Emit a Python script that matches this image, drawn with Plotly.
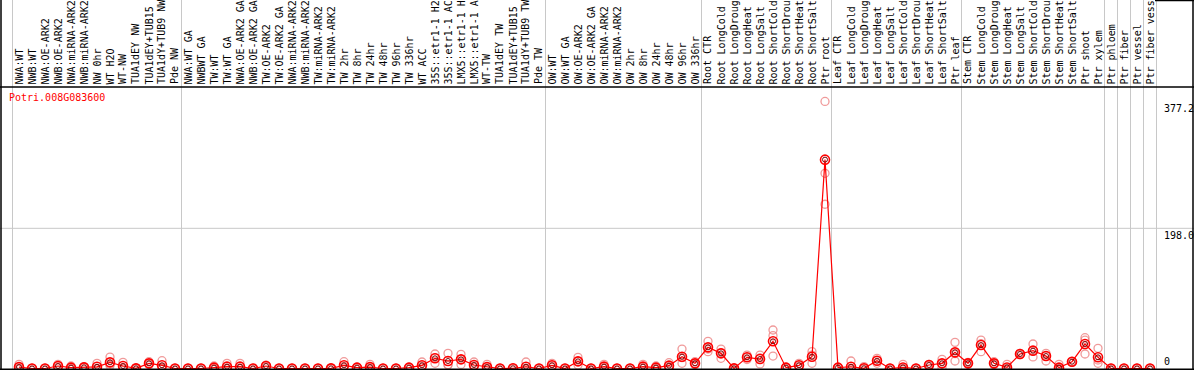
import plotly.graph_objects as go

W, H = 1194, 370

categories = [
    "NWA:WT", "NWB:WT", "NWA:OE-ARK2", "NWB:OE-ARK2", "NWA:miRNA-ARK2", "NWB:miRNA-ARK2",
    "NW 0hr", "WT H2O", "WT-NW", "TUA1dEY NW", "TUA1dEY+TUB15", "TUA1dY+TUB9 NW", "Pde NW",
    "NWA:WT GA", "NWBWT GA", "TW:WT", "TW:WT GA", "NWA:OE-ARK2 GA", "NWB:OE-ARK2 GA",
    "TW:OE-ARK2", "TW:OE-ARK2 GA", "NWA:miRNA-ARK2", "NWB:miRNA-ARK2", "TW:miRNA-ARK2",
    "TW:miRNA-ARK2", "TW 2hr", "TW 8hr", "TW 24hr", "TW 48hr", "TW 96hr", "TW 336hr",
    "WT ACC", "35S::etr1-1 H2", "35S::etr1-1 AC", "LMX5::etr1-1 H", "LMX5::etr1-1 A",
    "WT-TW", "TUA1dEY TW", "TUA1dEY+TUB15", "TUA1dY+TUB9 TW", "Pde TW",
    "OW:WT", "OW:WT GA", "OW:OE-ARK2", "OW:OE-ARK2 GA", "OW:miRNA-ARK2", "OW:miRNA-ARK2",
    "OW 2hr", "OW 8hr", "OW 24hr", "OW 48hr", "OW 96hr", "OW 336hr",
    "Root CTR", "Root LongCold", "Root LongDroug", "Root LongHeat", "Root LongSalt",
    "Root ShortCold", "Root ShortDrou", "Root ShortHeat", "Root ShortSalt", "Ptr root",
    "Leaf CTR", "Leaf LongCold", "Leaf LongDroug", "Leaf LongHeat", "Leaf LongSalt",
    "Leaf ShortCold", "Leaf ShortDrou", "Leaf ShortHeat", "Leaf ShortSalt", "Ptr leaf",
    "Stem CTR", "Stem LongCold", "Stem LongDroug", "Stem LongHeat", "Stem LongSalt",
    "Stem ShortCold", "Stem ShortDrou", "Stem ShortHeat", "Stem ShortSalt", "Ptr shoot",
    "Ptr xylem", "Ptr phloem", "Ptr fiber", "Ptr vessel", "Ptr fiber vess",
]

mean_values = [
    2.0, 0, 0, 3.5, 1.2, 1.6, 2.4, 8.7, 3.5, 0.2, 7.3, 4.5, 0,
    0, 0, 1.2, 2.6, 2.6, 0, 3.5, 0, 0, 0, 0, 0.2, 4.5, 1.2, 2.0, 0, 0,
    1.2, 4.5, 14.4, 10.6, 12.9, 4.9, 2.0, 0, 0.3, 2.5, 0,
    4.5, 0, 10.1, 0, 2.6, 0, 0, 2.6, 1.2, 4.0, 16.7, 7.3,
    29.9, 21.4, 0.2, 15.8, 13.4, 38.4, 1.2, 4.5, 16.7, 295.0,
    1.2, 2.5, 0.3, 11.0, 0, 1.5, 0, 4.9, 7.3, 22.8, 7.3,
    33.1, 7.3, 1.5, 20.5, 25.2, 17.6, 1.2, 9.6, 34.6, 15.8,
    0, 0, 0, 0,
]

rep1 = [
    5.9, 0, 0, 5.9, 3.5, 2.5, 7.3, 16.2, 8.7, 0.5, 9.6, 11.0, 0,
    0, 0, 3.5, 7.3, 7.3, 0, 4.9, 0, 0, 0, 0, 0.4, 9.6, 2.0, 5.9, 0, 0,
    2.0, 9.2, 20.5, 21.4, 20.0, 9.2, 5.9, 0, 0.6, 9.2, 0,
    7.3, 0, 15.8, 0, 5.9, 0, 0, 5.9, 3.5, 8.2, 27.5, 9.6,
    38.4, 27.5, 0.5, 19.0, 19.0, 54.4, 2.0, 7.3, 23.8, 377.2,
    1.5, 10.6, 2.6, 14.4, 0, 5.9, 0, 5.9, 12.9, 36.9, 8.7,
    40.2, 9.6, 5.9, 21.5, 34.6, 21.4, 5.9, 10.0, 43.5, 28.5,
    0, 0, 0, 0,
]

rep2 = [
    0, 0, 0, 3.5, 0, 1.5, 0, 6.0, 1.5, 0, 7.0, 2.0, 0,
    0, 0, 0, 0.5, 0.5, 0, 3.5, 0, 0, 0, 0, 0.2, 3.0, 1.0, 0, 0, 0,
    1.0, 3.5, 15.4, 5.5, 13.0, 3.5, 0, 0, 0.3, 0, 0,
    4.0, 0, 10.0, 0, 1.5, 0, 0, 1.5, 0, 3.0, 15.3, 7.0,
    27.5, 22.3, 0, 15.8, 15.0, 46.4, 1.0, 4.0, 19.0, 275.7,
    1.2, 0, 0, 11.0, 0, 0, 0, 4.9, 7.0, 21.0, 7.3,
    35.0, 7.0, 0, 20.5, 25.0, 17.6, 0, 9.6, 40.0, 12.0,
    0, 0, 0, 0,
]

rep3 = [
    0, 0, 0, 1.2, 0, 0.8, 0, 4.0, 0.3, 0, 5.3, 0.5, 0,
    0, 0, 0, 0, 0, 0, 2.1, 0, 0, 0, 0, 0, 1.0, 0.6, 0, 0, 0,
    0.6, 1.0, 7.3, 4.9, 5.7, 2.0, 0, 0, 0, 0, 0,
    2.2, 0, 4.9, 0, 0.4, 0, 0, 0.4, 0, 1.0, 7.3, 5.3,
    23.8, 14.4, 0, 12.6, 6.4, 17.6, 0.6, 2.2, 7.3, 232.0,
    0.9, 0, 0, 7.3, 0, 0, 0, 3.9, 1.2, 10.6, 6.0,
    23.8, 5.3, 0, 19.5, 16.3, 10.6, 0, 9.0, 20.5, 7.3,
    0, 0, 0, 0,
]

gene_name = "Potri.008G083600"
y_tick_values = [377.2, 198.0, 0]
y_tick_labels = ["377.2", "198.0", "0"]
group_breaks = [-0.5, 12.5, 40.5, 52.5, 62.5, 72.5, 83.5, 84.5, 85.5, 86.5, 87.5]

FONT = "DejaVu Sans Mono"
x_idx = list(range(len(categories)))

# pixel layout helpers
X0, DX = 19.0, 13.0            # pixel x of first category, pixel step
PLOT_TOP = 87.0                # pixel y of the plot top border
ZERO_PX, PX_PER_UNIT = 368.5, 0.708


def px_x(p):
    return p / W


def px_y(p):
    return (H - p) / H


x_range = [(0 - X0) / DX, (W - X0) / DX]
y_lo = -(H - ZERO_PX) / PX_PER_UNIT
y_hi = (ZERO_PX - PLOT_TOP) / PX_PER_UNIT

fig = go.Figure()

rep_x = x_idx + x_idx + x_idx
rep_y = rep1 + rep2 + rep3
fig.add_trace(go.Scatter(
    x=rep_x, y=rep_y, mode="markers",
    marker=dict(symbol="circle-open", size=8, color="rgba(235,120,120,0.75)",
                line=dict(width=1.3, color="rgba(235,120,120,0.75)")),
    hoverinfo="skip", showlegend=False, cliponaxis=False,
))
fig.add_trace(go.Scatter(
    x=x_idx, y=mean_values, mode="lines",
    line=dict(color="#ff0000", width=1.2),
    hoverinfo="skip", showlegend=False, cliponaxis=False,
))
fig.add_trace(go.Scatter(
    x=x_idx, y=mean_values, mode="markers",
    marker=dict(symbol="circle-open", size=9, color="#ff0000",
                line=dict(width=1.6, color="#ff0000")),
    hoverinfo="skip", showlegend=False, cliponaxis=False,
))
fig.add_trace(go.Scatter(
    x=x_idx, y=mean_values, mode="markers",
    marker=dict(symbol="circle-open", size=5, color="#7a0000",
                line=dict(width=1, color="#7a0000")),
    hoverinfo="skip", showlegend=False, cliponaxis=False,
))

shapes = []
# group separators (full height)
for b in group_breaks:
    shapes.append(dict(type="line", xref="x", yref="paper", x0=b, x1=b,
                       y0=px_y(369), y1=1, line=dict(color="#c8c8c8", width=1), layer="below"))
# gridline at 198
shapes.append(dict(type="line", xref="paper", yref="y", x0=0, x1=1, y0=198.0, y1=198.0,
                   line=dict(color="#c8c8c8", width=1), layer="below"))
# borders
blk = dict(color="black", width=1.5)
shapes += [
    dict(type="line", xref="paper", yref="paper", x0=0, x1=1, y0=px_y(PLOT_TOP), y1=px_y(PLOT_TOP), line=blk),
    dict(type="line", xref="paper", yref="paper", x0=0, x1=1, y0=px_y(369.2), y1=px_y(369.2), line=blk),
    dict(type="line", xref="paper", yref="paper", x0=px_x(1), x1=px_x(1), y0=px_y(369.2), y1=1, line=blk),
    dict(type="line", xref="paper", yref="paper", x0=px_x(1193), x1=px_x(1193), y0=px_y(369.2), y1=1, line=blk),
    dict(type="line", xref="paper", yref="paper", x0=px_x(1155), x1=1, y0=px_y(0.6), y1=px_y(0.6), line=blk),
]

annotations = []
for i, name in enumerate(categories):
    annotations.append(dict(
        x=i, xref="x", y=px_y(85.5), yref="paper", text=name, showarrow=False,
        textangle=-90, xanchor="center", yanchor="bottom", borderpad=0,
        font=dict(family=FONT, size=10, color="black"),
    ))
annotations.append(dict(
    x=px_x(8), xref="paper", y=px_y(97.5), yref="paper", text=gene_name, showarrow=False,
    xanchor="left", yanchor="middle", borderpad=0,
    font=dict(family=FONT, size=10, color="#ff0000"),
))
for v, lab in zip(y_tick_values, y_tick_labels):
    if v == 0:
        annotations.append(dict(
            x=px_x(1163), xref="paper", y=v, yref="y", text=lab, showarrow=False,
            xanchor="left", yanchor="bottom", yshift=1, borderpad=0,
            font=dict(family=FONT, size=10, color="black"),
        ))
    else:
        annotations.append(dict(
            x=px_x(1163), xref="paper", y=v, yref="y", text=lab, showarrow=False,
            xanchor="left", yanchor="top", yshift=-0.5, borderpad=0,
            font=dict(family=FONT, size=10, color="black"),
        ))

fig.update_layout(
    width=W, height=H,
    margin=dict(l=0, r=0, t=0, b=0, pad=0),
    paper_bgcolor="white", plot_bgcolor="white",
    xaxis=dict(range=x_range, domain=[0, 1], showgrid=False, zeroline=False,
               showticklabels=False, ticks="", showline=False, fixedrange=True),
    yaxis=dict(range=[y_lo, y_hi], domain=[0, px_y(PLOT_TOP)], showgrid=False, zeroline=False,
               showticklabels=False, ticks="", showline=False, fixedrange=True),
    shapes=shapes, annotations=annotations, showlegend=False,
)

fig.write_html(
    "out.html",
    config={"displayModeBar": False},
    post_script="document.body.style.margin='0';document.body.style.overflow='hidden';",
)
